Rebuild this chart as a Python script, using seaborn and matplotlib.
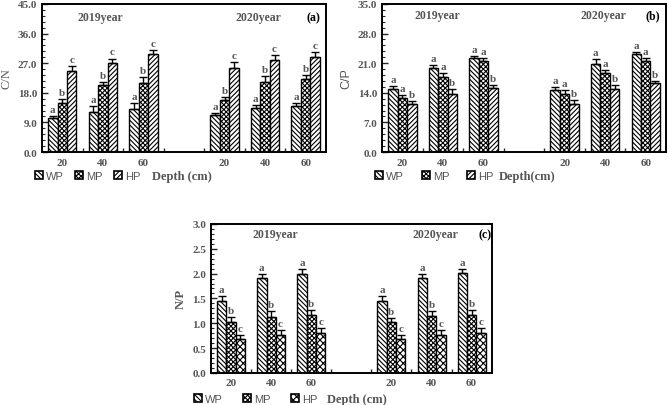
import numpy as np
import pandas as pd
import matplotlib
matplotlib.use("Agg")
import matplotlib.pyplot as plt
import matplotlib.patches as mpatches
from matplotlib.ticker import MultipleLocator, FixedLocator, FormatStrFormatter
import seaborn as sns

# ---------------- data ----------------
depths = ["20", "40", "60"]
years = ["2019", "2020"]
treatments = ["WP", "MP", "HP"]

# C/N  (values: 2019 20/40/60, 2020 20/40/60)
cn_WP = [10.3, 12.2, 13.1, 11.2, 13.4, 14.1]
cn_MP = [14.8, 20.4, 21.1, 15.8, 21.4, 22.2]
cn_HP = [24.5, 27.0, 29.9, 25.5, 28.1, 28.9]
cn_WP_err = [0.7, 1.9, 1.7, 0.7, 0.8, 0.9]
cn_MP_err = [1.2, 0.8, 1.7, 1.0, 1.8, 1.2]
cn_HP_err = [1.6, 1.4, 1.0, 1.8, 1.4, 1.6]
cn_letters = [["a"] * 6, ["b"] * 6, ["c"] * 6]

# C/P
cp_WP = [14.8, 19.8, 22.2, 14.6, 20.8, 23.1]
cp_MP = [12.8, 17.7, 21.6, 13.8, 18.7, 21.6]
cp_HP = [11.4, 13.8, 15.2, 11.3, 14.9, 16.2]
cp_WP_err = [0.7, 0.7, 0.5, 0.7, 1.1, 0.6]
cp_MP_err = [0.6, 0.9, 0.7, 0.8, 0.6, 0.6]
cp_HP_err = [0.6, 1.1, 0.7, 0.9, 0.9, 0.5]
cp_letters = [["a"] * 6, ["a"] * 6, ["b"] * 6]

# N/P
np_WP = [1.44, 1.91, 2.00, 1.44, 1.91, 2.01]
np_MP = [1.02, 1.13, 1.16, 1.02, 1.14, 1.17]
np_HP = [0.68, 0.77, 0.81, 0.68, 0.77, 0.81]
np_WP_err = [0.11, 0.09, 0.10, 0.10, 0.09, 0.09]
np_MP_err = [0.10, 0.11, 0.10, 0.09, 0.10, 0.10]
np_HP_err = [0.09, 0.09, 0.09, 0.09, 0.09, 0.09]
np_letters = [["a"] * 6, ["b"] * 6, ["c"] * 6]

# category slots (one empty slot between the years)
slots = ["2019-20", "2019-40", "2019-60", "gap", "2020-20", "2020-40", "2020-60"]
data_slots = [s for s in slots if s != "gap"]
slot_labels = ["20", "40", "60", "", "20", "40", "60"]

GREY = "#555555"
SERIF = "Liberation Serif"
SANS = "Liberation Sans"

sns.set_style("ticks")
plt.rcParams["hatch.linewidth"] = 0.8
plt.rcParams["font.family"] = [SERIF, "DejaVu Sans"]

BS = "\\" * 7
H_WP = BS
H_MP = "x" * 7
H_HP = "/" * 7
H_HP_C = "x" * 5


def build_df(vals, errs):
    rows = []
    for t, v, e in zip(treatments, vals, errs):
        for s, vv, ee in zip(data_slots, v, e):
            rows.append({"slot": s, "treat": t, "value": vv, "err": ee})
    return pd.DataFrame(rows)


def panel(ax, vals, errs, letters, hatches, ylim, ystep, ylabel, ylabel_font, ylabel_weight,
          tag, year_pos, leg_x, leg_cs, depth_x, depth_text, leg_y):
    df = build_df(vals, errs)
    sns.barplot(data=df, x="slot", y="value", hue="treat", order=slots,
                hue_order=treatments, width=0.7, errorbar=None, legend=False,
                palette=["white"] * 3, edgecolor="black",
                linewidth=1.0, ax=ax)
    bar_containers = list(ax.containers)
    for ci, cont in enumerate(bar_containers):
        for p in cont.patches:
            p.set_hatch(hatches[ci])
            p.set_facecolor("white")
            p.set_edgecolor("black")
            cx = p.get_x() + p.get_width() / 2
            idx = int(round(cx))
            if idx < 0 or idx >= len(slots) or slots[idx] == "gap":
                continue
            j = data_slots.index(slots[idx])
            h = p.get_height()
            if np.isnan(h):
                continue
            e = errs[ci][j]
            ax.errorbar(cx, h, yerr=[[0], [e]], fmt="none", ecolor="black",
                        elinewidth=1.0, capsize=3.2, capthick=1.0)
            ax.annotate(letters[ci][j], (cx, h + e), xytext=(0, 1.5),
                        textcoords="offset points", ha="center", va="bottom",
                        fontsize=8, fontweight="bold", color=GREY, family=SERIF)
    ax.set_xlim(-0.5, len(slots) - 0.5)
    ax.set_ylim(*ylim)
    ax.yaxis.set_major_locator(MultipleLocator(ystep))
    ax.yaxis.set_minor_locator(MultipleLocator(ystep / 5))
    ax.yaxis.set_major_formatter(FormatStrFormatter("%.1f"))
    ax.set_xticks(range(len(slots)))
    ax.set_xticklabels(slot_labels)
    ax.xaxis.set_minor_locator(FixedLocator([0.5, 1.5, 2.5, 3.5, 4.5, 5.5]))
    ax.tick_params(axis="x", which="major", length=0, pad=4)
    ax.tick_params(axis="x", which="minor", direction="in", length=3, width=1)
    ax.tick_params(axis="y", which="major", direction="in", length=4, width=1)
    ax.tick_params(axis="y", which="minor", direction="in", length=2, width=0.8)
    for lab in ax.get_xticklabels() + ax.get_yticklabels():
        lab.set_fontfamily(SERIF)
        lab.set_fontweight("bold")
        lab.set_fontsize(8)
        lab.set_color(GREY)
    for s in ax.spines.values():
        s.set_visible(True)
        s.set_linewidth(1.4)
        s.set_color("black")
    ax.set_xlabel("")
    ax.set_ylabel(ylabel, family=ylabel_font, fontweight=ylabel_weight,
                  fontsize=9, color=GREY, labelpad=4)
    ax.text(year_pos[0], year_pos[2], "2019year", transform=ax.transAxes,
            ha="center", va="center", fontsize=8.5, fontweight="bold",
            color=GREY, family=SERIF)
    ax.text(year_pos[1], year_pos[2], "2020year", transform=ax.transAxes,
            ha="center", va="center", fontsize=8.5, fontweight="bold",
            color=GREY, family=SERIF)
    ax.text(year_pos[3], year_pos[2], tag, transform=ax.transAxes,
            ha="center", va="center", fontsize=8.5, fontweight="bold",
            color="black", family=SERIF)
    handles = [mpatches.Patch(facecolor="white", edgecolor="black", hatch=h,
                              linewidth=1.2, label=t)
               for h, t in zip(hatches, treatments)]
    leg = ax.legend(handles=handles, ncol=3, loc="center left",
                    bbox_to_anchor=(leg_x, leg_y), frameon=False,
                    handlelength=0.7, handleheight=0.7, handletextpad=0.3,
                    columnspacing=leg_cs, borderpad=0, borderaxespad=0,
                    prop={"family": SANS, "size": 8})
    for txt in leg.get_texts():
        txt.set_color(GREY)
    ax.text(depth_x, leg_y, depth_text, transform=ax.transAxes, ha="center",
            va="center", fontsize=9, fontweight="bold", color=GREY, family=SERIF)


fig = plt.figure(figsize=(6.68, 4.06), dpi=100)
ax_a = fig.add_axes([0.0629, 0.623, 0.425, 0.365])
ax_b = fig.add_axes([0.572, 0.623, 0.425, 0.365])
ax_c = fig.add_axes([0.316, 0.079, 0.42, 0.367])

panel(ax_a, [cn_WP, cn_MP, cn_HP], [cn_WP_err, cn_MP_err, cn_HP_err], cn_letters,
      [H_WP, H_MP, H_HP], (0, 45), 9.0, "C/N", SERIF, "normal", "(a)",
      (0.207, 0.764, 0.912, 0.955), -0.025, 1.0, 0.493, "Depth (cm)", -0.16)
panel(ax_b, [cp_WP, cp_MP, cp_HP], [cp_WP_err, cp_MP_err, cp_HP_err], cp_letters,
      [H_WP, H_MP, H_HP], (0, 35), 7.0, "C/P", SANS, "normal", "(b)",
      (0.196, 0.78, 0.926, 0.955), -0.025, 1.6, 0.51, "Depth(cm)", -0.16)
panel(ax_c, [np_WP, np_MP, np_HP], [np_WP_err, np_MP_err, np_HP_err], np_letters,
      [H_WP, H_MP, H_HP_C], (0, 3.0), 0.5, "N/P", SERIF, "bold", "(c)",
      (0.23, 0.80, 0.933, 0.975), -0.06, 1.8, 0.52, "Depth (cm)", -0.175)

fig.savefig("out.png", dpi=100)
